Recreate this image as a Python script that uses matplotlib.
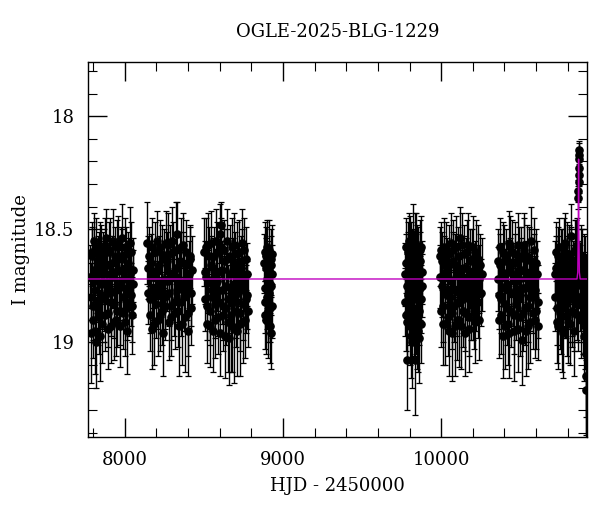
import numpy as np
import matplotlib
matplotlib.use("Agg")
import matplotlib.pyplot as plt
from matplotlib.ticker import MultipleLocator, FormatStrFormatter

title = "OGLE-2025-BLG-1229"

# each season: (HJD - 2450000, I mag, error)
season1 = [(7784, 18.71, 0.14), (7790, 18.96, 0.22), (7796, 18.62, 0.13), (7802, 18.84, 0.15),
           (7808, 18.55, 0.12), (7815, 18.77, 0.14), (7822, 19.00, 0.20), (7829, 18.66, 0.13),
           (7836, 18.89, 0.16), (7843, 18.59, 0.12), (7850, 18.74, 0.13), (7857, 18.92, 0.17),
           (7864, 18.63, 0.12), (7871, 18.81, 0.14), (7878, 18.57, 0.12), (7885, 18.70, 0.13),
           (7892, 18.87, 0.15), (7899, 18.60, 0.13), (7906, 18.78, 0.14), (7913, 18.93, 0.16),
           (7920, 18.65, 0.12), (7927, 18.55, 0.14), (7934, 18.83, 0.15), (7941, 18.69, 0.13),
           (7948, 18.90, 0.16), (7955, 18.58, 0.12), (7962, 18.76, 0.14), (7969, 18.86, 0.15),
           (7976, 18.62, 0.13), (7983, 18.54, 0.15), (7990, 18.80, 0.14), (7997, 18.72, 0.13),
           (8004, 18.91, 0.15), (8011, 18.61, 0.12), (8018, 18.85, 0.14), (8025, 18.67, 0.13),
           (8032, 18.56, 0.16), (8039, 18.79, 0.14), (8046, 18.88, 0.17), (8053, 18.68, 0.14),
           (7787, 18.80, 0.15), (7793, 18.60, 0.13), (7799, 18.90, 0.17), (7805, 18.68, 0.14),
           (7811, 18.95, 0.19), (7818, 18.58, 0.13), (7825, 18.73, 0.14), (7832, 18.85, 0.16),
           (7839, 18.64, 0.13), (7846, 18.97, 0.20), (7853, 18.61, 0.13), (7860, 18.79, 0.15),
           (7867, 18.69, 0.14), (7874, 18.88, 0.16), (7881, 18.54, 0.13), (7888, 18.75, 0.14),
           (7895, 18.94, 0.18), (7902, 18.66, 0.13), (7909, 18.59, 0.14), (7916, 18.82, 0.15),
           (7923, 18.71, 0.14), (7930, 18.91, 0.17), (7937, 18.62, 0.13), (7944, 18.77, 0.15),
           (7951, 18.86, 0.16), (7958, 18.57, 0.13), (7965, 18.68, 0.14), (7972, 18.93, 0.18),
           (7979, 18.73, 0.14), (7986, 18.63, 0.13), (7993, 18.87, 0.16), (8000, 18.58, 0.13),
           (8007, 18.76, 0.14), (8014, 18.95, 0.19), (8021, 18.65, 0.14), (8028, 18.82, 0.15),
           (8035, 18.70, 0.14), (8042, 18.60, 0.13), (8049, 18.84, 0.16), (8055, 18.74, 0.15)]
season2 = [(8142, 18.56, 0.18), (8150, 18.78, 0.14), (8158, 18.88, 0.16), (8166, 18.65, 0.13),
           (8174, 18.94, 0.18), (8182, 18.71, 0.14), (8190, 18.60, 0.13), (8198, 18.83, 0.15),
           (8206, 18.68, 0.13), (8214, 18.90, 0.16), (8222, 18.58, 0.12), (8230, 18.75, 0.14),
           (8238, 18.86, 0.15), (8246, 18.63, 0.13), (8254, 18.80, 0.14), (8262, 18.56, 0.14),
           (8270, 18.73, 0.13), (8278, 18.91, 0.17), (8286, 18.61, 0.13), (8294, 18.84, 0.15),
           (8302, 18.55, 0.15), (8310, 18.69, 0.13), (8318, 18.87, 0.16), (8326, 18.59, 0.21),
           (8334, 18.77, 0.14), (8342, 18.93, 0.22), (8350, 18.64, 0.13), (8358, 18.82, 0.15),
           (8366, 18.57, 0.14), (8374, 18.74, 0.14), (8382, 18.89, 0.24), (8390, 18.66, 0.13),
           (8398, 18.95, 0.20), (8406, 18.70, 0.15), (8414, 18.62, 0.14), (8420, 18.85, 0.16),
           (8146, 18.67, 0.14), (8154, 18.62, 0.13), (8162, 18.81, 0.15), (8170, 18.58, 0.13),
           (8178, 18.76, 0.14), (8186, 18.92, 0.18), (8194, 18.69, 0.14), (8202, 18.55, 0.13),
           (8210, 18.79, 0.15), (8218, 18.66, 0.13), (8226, 18.88, 0.16), (8234, 18.61, 0.13),
           (8242, 18.96, 0.19), (8250, 18.72, 0.14), (8258, 18.84, 0.15), (8266, 18.64, 0.13),
           (8274, 18.57, 0.14), (8282, 18.78, 0.15), (8290, 18.89, 0.17), (8298, 18.70, 0.14),
           (8306, 18.60, 0.13), (8314, 18.82, 0.15), (8322, 18.67, 0.14), (8330, 18.52, 0.14),
           (8338, 18.86, 0.16), (8346, 18.73, 0.14), (8354, 18.58, 0.13), (8362, 18.92, 0.18),
           (8370, 18.65, 0.14), (8378, 18.80, 0.15), (8386, 18.60, 0.14), (8394, 18.75, 0.15),
           (8402, 18.87, 0.19), (8410, 18.63, 0.14), (8417, 18.78, 0.15), (8424, 18.68, 0.15)]
season3 = [(8502, 18.60, 0.15), (8509, 18.81, 0.14), (8516, 18.71, 0.13), (8523, 18.92, 0.17),
           (8530, 18.57, 0.14), (8537, 18.86, 0.15), (8544, 18.66, 0.13), (8551, 18.77, 0.14),
           (8558, 18.95, 0.18), (8565, 18.62, 0.13), (8572, 18.83, 0.15), (8579, 18.55, 0.14),
           (8586, 18.73, 0.13), (8593, 18.89, 0.16), (8600, 18.52, 0.13), (8607, 18.48, 0.10),
           (8614, 18.68, 0.13), (8621, 18.84, 0.15), (8628, 18.59, 0.13), (8635, 18.97, 0.19),
           (8642, 18.75, 0.14), (8649, 18.63, 0.13), (8656, 18.91, 0.22), (8663, 18.70, 0.14),
           (8670, 18.88, 0.25), (8677, 18.58, 0.13), (8684, 18.80, 0.15), (8691, 18.94, 0.24),
           (8698, 18.65, 0.14), (8705, 18.86, 0.16), (8712, 18.61, 0.14), (8719, 18.78, 0.15),
           (8726, 18.92, 0.23), (8733, 18.67, 0.14), (8740, 18.56, 0.15), (8747, 18.83, 0.16),
           (8754, 18.72, 0.14), (8761, 18.90, 0.17), (8768, 18.63, 0.14), (8775, 18.79, 0.15),
           (8505, 18.69, 0.14), (8512, 18.58, 0.13), (8519, 18.84, 0.15), (8526, 18.73, 0.14),
           (8533, 18.62, 0.13), (8540, 18.93, 0.18), (8547, 18.56, 0.14), (8554, 18.80, 0.15),
           (8561, 18.67, 0.13), (8568, 18.90, 0.17), (8575, 18.74, 0.14), (8582, 18.60, 0.13),
           (8589, 18.82, 0.15), (8596, 18.69, 0.14), (8603, 18.96, 0.19), (8610, 18.58, 0.13),
           (8617, 18.77, 0.15), (8624, 18.88, 0.16), (8631, 18.64, 0.14), (8638, 18.85, 0.16),
           (8645, 18.55, 0.14), (8652, 18.81, 0.15), (8659, 18.98, 0.21), (8666, 18.62, 0.14),
           (8673, 18.76, 0.15), (8680, 18.93, 0.20), (8687, 18.68, 0.14), (8694, 18.57, 0.14),
           (8701, 18.82, 0.16), (8708, 18.95, 0.20), (8715, 18.70, 0.14), (8722, 18.60, 0.14),
           (8729, 18.87, 0.17), (8736, 18.75, 0.15), (8743, 18.64, 0.14), (8750, 18.91, 0.18),
           (8757, 18.59, 0.14), (8764, 18.81, 0.15), (8771, 18.70, 0.14), (8778, 18.86, 0.16)]
season4 = [(8882, 18.65, 0.13), (8886, 18.82, 0.14), (8890, 18.60, 0.13), (8894, 18.90, 0.15),
           (8898, 18.72, 0.13), (8902, 18.58, 0.12), (8906, 18.86, 0.14), (8910, 18.68, 0.13),
           (8914, 18.78, 0.14), (8918, 18.93, 0.16), (8922, 18.63, 0.13), (8926, 18.75, 0.13),
           (8930, 18.84, 0.14), (8934, 18.70, 0.13),
           (8884, 18.76, 0.14), (8888, 18.88, 0.15), (8892, 18.67, 0.13), (8896, 18.62, 0.13),
           (8900, 18.80, 0.14), (8904, 18.71, 0.13), (8908, 18.91, 0.16), (8912, 18.59, 0.13),
           (8916, 18.74, 0.13), (8920, 18.85, 0.15), (8924, 18.66, 0.13), (8928, 18.96, 0.16),
           (8932, 18.61, 0.13)]
season5 = [(9772, 18.70, 0.14), (9776, 18.58, 0.13), (9780, 18.88, 0.16), (9784, 19.08, 0.22),
           (9788, 18.64, 0.13), (9792, 18.79, 0.14), (9796, 18.55, 0.12), (9800, 18.93, 0.17),
           (9804, 18.68, 0.13), (9808, 18.84, 0.15), (9812, 18.60, 0.13), (9816, 19.00, 0.20),
           (9820, 18.74, 0.14), (9824, 18.52, 0.13), (9828, 18.90, 0.16), (9832, 18.66, 0.13),
           (9836, 19.08, 0.24), (9840, 18.81, 0.15), (9844, 18.57, 0.14), (9848, 18.71, 0.13),
           (9852, 18.95, 0.18), (9856, 18.62, 0.13), (9860, 18.86, 0.15), (9864, 18.76, 0.14),
           (9868, 18.59, 0.13), (9872, 18.92, 0.17), (9876, 18.69, 0.14),
           (9774, 18.82, 0.15), (9778, 18.65, 0.13), (9782, 18.75, 0.14), (9786, 18.91, 0.17),
           (9790, 18.60, 0.13), (9794, 18.86, 0.15), (9798, 18.70, 0.14), (9802, 18.79, 0.15),
           (9806, 18.57, 0.13), (9810, 18.97, 0.19), (9814, 18.73, 0.14), (9818, 18.63, 0.13),
           (9822, 18.85, 0.15), (9826, 18.68, 0.14), (9830, 18.78, 0.15), (9834, 18.56, 0.13),
           (9838, 18.89, 0.16), (9842, 18.66, 0.14), (9846, 18.94, 0.18), (9850, 18.61, 0.13),
           (9854, 18.77, 0.15), (9858, 18.70, 0.14), (9862, 18.98, 0.20), (9866, 18.64, 0.13),
           (9870, 18.81, 0.15), (9874, 18.58, 0.14), (9878, 18.75, 0.14)]
season6 = [(9990, 18.62, 0.13), (9996, 18.59, 0.12), (10003, 18.75, 0.14), (10010, 18.84, 0.16),
           (10017, 18.66, 0.13), (10024, 18.92, 0.18), (10031, 18.60, 0.13), (10038, 18.79, 0.15),
           (10045, 18.71, 0.14), (10052, 18.95, 0.20), (10059, 18.56, 0.13), (10066, 18.87, 0.16),
           (10073, 18.64, 0.13), (10080, 18.77, 0.14), (10087, 18.93, 0.22), (10094, 18.58, 0.14),
           (10101, 18.82, 0.15), (10108, 18.69, 0.13), (10115, 18.90, 0.21), (10122, 18.54, 0.14),
           (10129, 18.73, 0.14), (10136, 18.86, 0.16), (10143, 18.61, 0.13), (10150, 18.96, 0.19),
           (10157, 18.67, 0.13), (10164, 18.80, 0.15), (10171, 18.57, 0.14), (10178, 18.89, 0.17),
           (10185, 18.70, 0.14), (10192, 18.63, 0.13), (10199, 18.84, 0.15), (10206, 18.76, 0.14),
           (10213, 18.91, 0.18), (10220, 18.60, 0.14), (10227, 18.74, 0.15), (10234, 18.82, 0.16),
           (10245, 18.66, 0.14), (10250, 18.78, 0.15),
           (9993, 18.71, 0.14), (10000, 18.86, 0.16), (10006, 18.64, 0.13), (10013, 18.92, 0.18),
           (10020, 18.58, 0.13), (10027, 18.77, 0.15), (10034, 18.68, 0.14), (10041, 18.89, 0.17),
           (10048, 18.61, 0.13), (10055, 18.80, 0.15), (10062, 18.73, 0.14), (10069, 18.96, 0.21),
           (10076, 18.59, 0.13), (10083, 18.84, 0.16), (10090, 18.66, 0.14), (10097, 18.90, 0.18),
           (10104, 18.62, 0.13), (10111, 18.78, 0.15), (10118, 18.70, 0.14), (10125, 18.93, 0.19),
           (10132, 18.57, 0.14), (10139, 18.81, 0.15), (10146, 18.67, 0.14), (10153, 18.87, 0.17),
           (10160, 18.60, 0.14), (10167, 18.75, 0.15), (10174, 18.94, 0.19), (10181, 18.64, 0.14),
           (10188, 18.83, 0.16), (10195, 18.72, 0.15), (10202, 18.58, 0.14), (10209, 18.86, 0.17),
           (10216, 18.69, 0.14), (10223, 18.79, 0.16), (10230, 18.63, 0.15), (10238, 18.90, 0.18),
           (10242, 18.72, 0.15), (10256, 18.70, 0.16)]
season7 = [(10357, 18.64, 0.14), (10364, 18.79, 0.15), (10371, 18.58, 0.13), (10378, 18.88, 0.17),
           (10385, 18.70, 0.14), (10392, 18.97, 0.19), (10399, 18.61, 0.13), (10406, 18.83, 0.15),
           (10413, 18.74, 0.14), (10420, 18.92, 0.18), (10427, 18.56, 0.14), (10434, 18.67, 0.13),
           (10441, 18.86, 0.16), (10448, 18.60, 0.14), (10455, 18.78, 0.15), (10462, 18.95, 0.22),
           (10469, 18.65, 0.13), (10476, 18.81, 0.15), (10483, 18.57, 0.14), (10490, 18.72, 0.14),
           (10497, 18.89, 0.17), (10504, 18.62, 0.13), (10511, 18.99, 0.20), (10518, 18.76, 0.14),
           (10525, 18.59, 0.14), (10532, 18.85, 0.16), (10539, 18.69, 0.14), (10546, 18.93, 0.19),
           (10553, 18.63, 0.14), (10560, 18.80, 0.15), (10567, 18.55, 0.15), (10574, 18.74, 0.14),
           (10581, 18.87, 0.16), (10588, 18.66, 0.14), (10595, 18.90, 0.17), (10602, 18.65, 0.15),
           (10609, 18.93, 0.15),
           (10360, 18.72, 0.14), (10367, 18.90, 0.17), (10374, 18.66, 0.14), (10381, 18.81, 0.15),
           (10388, 18.60, 0.13), (10395, 18.76, 0.15), (10402, 18.93, 0.19), (10409, 18.64, 0.14),
           (10416, 18.85, 0.16), (10423, 18.69, 0.14), (10430, 18.96, 0.20), (10437, 18.58, 0.14),
           (10444, 18.78, 0.15), (10451, 18.70, 0.14), (10458, 18.88, 0.17), (10465, 18.61, 0.14),
           (10472, 18.83, 0.16), (10479, 18.73, 0.15), (10486, 18.94, 0.19), (10493, 18.63, 0.14),
           (10500, 18.79, 0.15), (10507, 18.68, 0.14), (10514, 18.87, 0.17), (10521, 18.57, 0.14),
           (10528, 18.76, 0.15), (10535, 18.95, 0.20), (10542, 18.62, 0.14), (10549, 18.84, 0.16),
           (10556, 18.71, 0.15), (10563, 18.91, 0.18), (10570, 18.64, 0.14), (10577, 18.80, 0.16),
           (10584, 18.59, 0.14), (10591, 18.77, 0.15), (10598, 18.86, 0.17), (10605, 18.70, 0.15),
           (10612, 18.82, 0.16)]
season8 = [(10717, 18.70, 0.15), (10723, 18.60, 0.13), (10729, 18.85, 0.16), (10735, 18.66, 0.13),
           (10741, 18.93, 0.19), (10747, 18.58, 0.13), (10753, 18.78, 0.15), (10759, 18.88, 0.17),
           (10765, 18.63, 0.13), (10771, 18.96, 0.20), (10777, 18.72, 0.14), (10783, 18.56, 0.13),
           (10789, 18.83, 0.15), (10795, 18.67, 0.14), (10801, 18.91, 0.18), (10807, 18.61, 0.13),
           (10813, 18.77, 0.15), (10819, 18.53, 0.14), (10825, 18.86, 0.16), (10831, 18.69, 0.14),
           (10837, 18.95, 0.20), (10843, 18.59, 0.13), (10849, 18.80, 0.15), (10855, 18.74, 0.14),
           (10860, 18.57, 0.12), (10864, 18.88, 0.16),
           (10720, 18.80, 0.15), (10726, 18.67, 0.14), (10732, 18.91, 0.18), (10738, 18.62, 0.13),
           (10744, 18.76, 0.15), (10750, 18.87, 0.16), (10756, 18.64, 0.14), (10762, 18.94, 0.19),
           (10768, 18.70, 0.14), (10774, 18.58, 0.13), (10780, 18.82, 0.16), (10786, 18.73, 0.14),
           (10792, 18.89, 0.17), (10798, 18.61, 0.14), (10804, 18.79, 0.15), (10810, 18.68, 0.14),
           (10816, 18.92, 0.18), (10822, 18.63, 0.14), (10828, 18.81, 0.16), (10834, 18.72, 0.15),
           (10840, 18.87, 0.17), (10846, 18.66, 0.14), (10852, 18.60, 0.14), (10857, 18.83, 0.16),
           (10862, 18.70, 0.15),
           (10867, 18.36, 0.05), (10867, 18.33, 0.05), (10868, 18.29, 0.05), (10868, 18.26, 0.05),
           (10868, 18.23, 0.05), (10869, 18.19, 0.05), (10869, 18.17, 0.05), (10869, 18.15, 0.04),
           (10876, 18.71, 0.14), (10879, 18.80, 0.15), (10882, 18.90, 0.17), (10885, 18.62, 0.14),
           (10888, 18.64, 0.14), (10891, 18.75, 0.15), (10894, 18.82, 0.16), (10897, 18.88, 0.17),
           (10900, 18.97, 0.20), (10903, 18.66, 0.14), (10906, 18.68, 0.15), (10909, 18.93, 0.19),
           (10912, 19.15, 0.18), (10915, 18.76, 0.15), (10916, 19.21, 0.20), (10917, 18.86, 0.22),
           (10917, 19.05, 0.38)]

# model curve (flat baseline + short spike)
model_t = [7770, 10858, 10863, 10866, 10868, 10870, 10873, 10878, 10920]
model_mag = [18.72, 18.72, 18.69, 18.50, 18.19, 18.50, 18.69, 18.72, 18.72]

plt.rcParams['font.family'] = ['DejaVu Serif']
fig = plt.figure(figsize=(6, 5.12), dpi=100)
ax = fig.add_axes([0.147, 0.146, 0.831, 0.733])

for season in [season1, season2, season3, season4, season5, season6, season7, season8]:
    d = np.array(season)
    ax.errorbar(d[:, 0], d[:, 1], yerr=d[:, 2], fmt='o', color='black', ms=5.2,
                ecolor='black', elinewidth=1.0, capsize=2.5, capthick=0.9, zorder=2)

ax.plot(model_t, model_mag, color='#c000c0', lw=1.0, zorder=3)

ax.set_xlim(7770, 10920)
ax.set_ylim(19.42, 17.76)
ax.xaxis.set_major_locator(MultipleLocator(1000))
ax.xaxis.set_minor_locator(MultipleLocator(200))
ax.yaxis.set_major_locator(MultipleLocator(0.5))
ax.yaxis.set_minor_locator(MultipleLocator(0.1))
ax.yaxis.set_major_formatter(FormatStrFormatter('%g'))
ax.tick_params(which='both', direction='in', top=True, right=True, labelsize=13)
ax.tick_params(which='major', length=14, width=1.0, pad=10)
ax.tick_params(which='minor', length=6.5, width=0.8)
for s in ax.spines.values():
    s.set_linewidth(1.0)

ax.set_title(title, fontsize=13, pad=18)
ax.set_xlabel("HJD - 2450000", fontsize=13, labelpad=6)
ax.set_ylabel("I magnitude", fontsize=13, labelpad=3)

fig.savefig("out.png", dpi=100)
